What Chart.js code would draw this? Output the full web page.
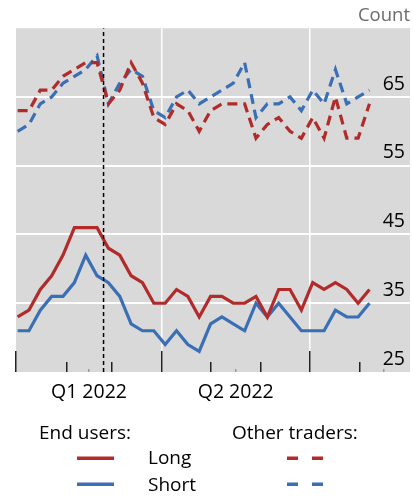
<!DOCTYPE html>
<html>
<head>
<meta charset="utf-8">
<script src="https://cdn.jsdelivr.net/npm/chart.js@4.4.0/dist/chart.umd.min.js"></script>
<style>
  html, body { margin: 0; padding: 0; background: #fff; }
  body { width: 413px; height: 497px; position: relative; overflow: hidden; font-family: "Open Sans", sans-serif; }
  #wrap { position: absolute; left: 0; top: 0; width: 413px; height: 433px; }
  .legend { position: absolute; left: 0; top: 0; }
  .lg-text { position: absolute; font-size: 19px; line-height: 1; color: #000; white-space: nowrap; }
</style>
</head>
<body>
<div id="wrap"><canvas id="chart"></canvas></div>

<svg class="legend" width="413" height="497">
  <line x1="77" y1="458.3" x2="114" y2="458.3" stroke="#b22b2b" stroke-width="3.5"/>
  <line x1="77" y1="484.3" x2="114" y2="484.3" stroke="#3a6eb5" stroke-width="3.5"/>
  <line x1="287" y1="458.3" x2="323" y2="458.3" stroke="#b22b2b" stroke-width="3.5" stroke-dasharray="11 14"/>
  <line x1="287" y1="484.3" x2="323" y2="484.3" stroke="#3a6eb5" stroke-width="3.5" stroke-dasharray="11 14"/>
</svg>
<div class="lg-text" style="left:39px; top:423px;">End users:</div>
<div class="lg-text" style="left:232px; top:423px;">Other traders:</div>
<div class="lg-text" style="left:148px; top:448px;">Long</div>
<div class="lg-text" style="left:148px; top:475px;">Short</div>

<script>
// Weekly observations (2022)
const weekDates = [
  '2022-01-02', '2022-01-09', '2022-01-16', '2022-01-23', '2022-01-30',
  '2022-02-06', '2022-02-13', '2022-02-20', '2022-02-27',
  '2022-03-06', '2022-03-13', '2022-03-20', '2022-03-27',
  '2022-04-03', '2022-04-10', '2022-04-17', '2022-04-24',
  '2022-05-01', '2022-05-08', '2022-05-15', '2022-05-22', '2022-05-29',
  '2022-06-05', '2022-06-12', '2022-06-19', '2022-06-26',
  '2022-07-03', '2022-07-10', '2022-07-17', '2022-07-24', '2022-07-31',
  '2022-08-07'
];

// End users (solid)
const endUsersLong  = [33, 34, 37, 39, 42, 46, 46, 46, 43, 42, 39, 38, 35, 35, 37, 36,
                       33, 36, 36, 35, 35, 36, 33, 37, 37, 34, 38, 37, 38, 37, 35, 37];
const endUsersShort = [31, 31, 34, 36, 36, 38, 42, 39, 38, 36, 32, 31, 31, 29, 31, 29,
                       28, 32, 33, 32, 31, 35, 33, 35, 33, 31, 31, 31, 34, 33, 33, 35];

// Other traders (dashed)
const otherLong  = [63, 63, 66, 66, 68, 69, 70, 70, 64, 66, 70, 67, 62, 61, 64, 63,
                    60, 63, 64, 64, 64, 59, 61, 62, 60, 59, 62, 59, 65, 59, 59, 64];
const otherShort = [60, 61, 64, 65, 67, 68, 69, 71, 64, 67, 69, 68, 63, 62, 65, 66,
                    64, 65, 66, 67, 70, 62, 64, 64, 65, 63, 66, 64, 69, 64, 65, 66];

// Axes (x in days since 1 Jan 2022)
const yTicks = [25, 35, 45, 55, 65, 75];
const monthStarts = [0, 31, 59, 90, 120, 151, 181, 212];
const quarterStarts = [0, 90, 181];
const quarterMids = [45, 135.5, 227];
const quarterLabels = ['Q1 2022', 'Q2 2022', ''];
const invasionDay = 54; // 24 Feb 2022

const RED = '#b22b2b';
const BLUE = '#3a6eb5';
const FONT = '"Open Sans", sans-serif';

function toDay(s) {
  return (Date.parse(s) - Date.parse('2022-01-01')) / 86400000;
}

function toPoints(values) {
  return values.map((v, i) => ({ x: toDay(weekDates[i]), y: v }));
}

const plotBackground = {
  id: 'plotBackground',
  beforeDraw(chart) {
    const { ctx, chartArea: a } = chart;
    ctx.save();
    ctx.fillStyle = '#d9d9d9';
    ctx.fillRect(a.left, a.top, a.right - a.left, a.bottom - a.top);
    ctx.restore();
  }
};

const lineBase = { pointRadius: 0, borderWidth: 3.2, tension: 0, fill: false, borderCapStyle: 'butt' };

new Chart(document.getElementById('chart'), {
  type: 'line',
  data: {
    datasets: [
      { label: 'Invasion', data: [{ x: invasionDay, y: 25 }, { x: invasionDay, y: 75 }],
        borderColor: '#000', borderWidth: 1.5, borderDash: [4, 3], pointRadius: 0 },
      { ...lineBase, label: 'End users long', data: toPoints(endUsersLong), borderColor: RED },
      { ...lineBase, label: 'End users short', data: toPoints(endUsersShort), borderColor: BLUE },
      { ...lineBase, label: 'Other traders long', data: toPoints(otherLong), borderColor: RED, borderDash: [10, 6] },
      { ...lineBase, label: 'Other traders short', data: toPoints(otherShort), borderColor: BLUE, borderDash: [10, 6] }
    ]
  },
  options: {
    responsive: true,
    maintainAspectRatio: false,
    animation: false,
    layout: { padding: { left: 16, right: 3, top: 0, bottom: 0 } },
    plugins: {
      legend: { display: false },
      tooltip: { enabled: false },
      title: {
        display: true, text: 'Count', align: 'end', color: '#6b6b6b',
        font: { family: FONT, size: 18.5, weight: 'normal' },
        padding: { top: 5, bottom: 1 }
      }
    },
    scales: {
      x: {
        type: 'linear', min: 0, max: 243,
        afterBuildTicks: scale => {
          scale.ticks = [...monthStarts, ...quarterMids].sort((a, b) => a - b).map(v => ({ value: v }));
        },
        ticks: {
          autoSkip: false, maxRotation: 0, padding: 0, color: '#000',
          // tall line height pushes the labels below the inward tick marks
          font: { family: FONT, size: 19.5, lineHeight: '82px' },
          callback: v => {
            const i = quarterMids.indexOf(v);
            return i >= 0 ? quarterLabels[i] : '';
          }
        },
        grid: {
          color: c => (quarterStarts.includes(c.tick.value) && c.tick.value > 0) ? '#fff' : 'rgba(0,0,0,0)',
          lineWidth: 1.5,
          tickLength: -21,
          tickWidth: 1.5,
          tickColor: c => quarterMids.includes(c.tick.value) ? '#9a9a9a' : '#222',
          tickBorderDash: c => {
            const v = c.tick.value;
            if (quarterStarts.includes(v)) return [];
            if (quarterMids.includes(v)) return [3, 100];
            return [10, 100];
          }
        },
        border: { display: false }
      },
      y: {
        position: 'right', min: 25, max: 75,
        afterBuildTicks: scale => { scale.ticks = yTicks.map(v => ({ value: v })); },
        ticks: {
          mirror: true, padding: -5, labelOffset: -13, color: '#000',
          font: { family: FONT, size: 19.5 },
          callback: v => (v === 75 ? '' : v)
        },
        grid: {
          color: c => (c.tick.value === 25 || c.tick.value === 75) ? 'rgba(0,0,0,0)' : '#fff',
          lineWidth: 2,
          drawTicks: false
        },
        border: { display: false }
      }
    }
  },
  plugins: [plotBackground]
});
</script>
</body>
</html>
